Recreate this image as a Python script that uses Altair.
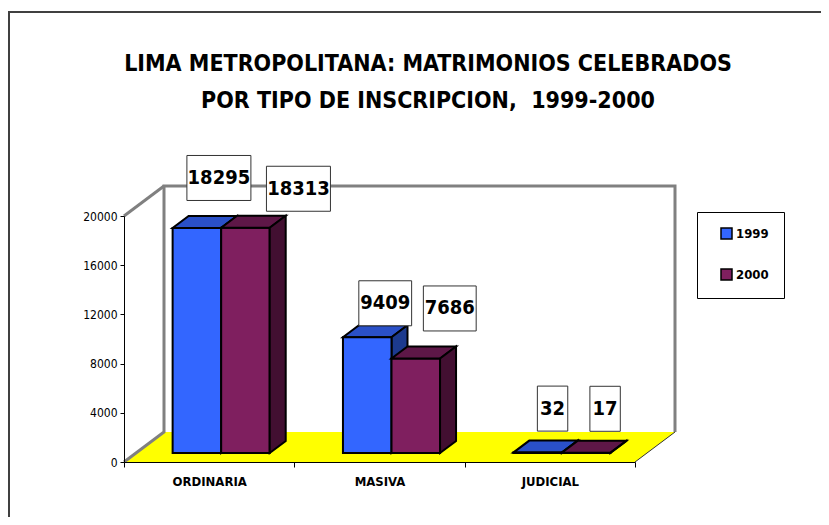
import altair as alt
import pandas as pd

# ---------------- data ----------------
categories = ["ORDINARIA", "MASIVA", "JUDICIAL"]
years = ["1999", "2000"]
values_1999 = [18295, 9409, 32]
values_2000 = [18313, 7686, 17]
y_ticks = [0, 4000, 8000, 12000, 16000, 20000]
title_lines = ["LIMA METROPOLITANA: MATRIMONIOS CELEBRADOS",
               "POR TIPO DE INSCRIPCION, \u00a01999-2000"]
series = {"1999": values_1999, "2000": values_2000}

# ---------------- layout / style ----------------
W, H = 511, 246
Y_MAX = 20000
PXX = W / len(categories)
PXY = H / Y_MAX


def ux(px):
    return px / PXX


def uy(px):
    return px / PXY


FLOOR = (40, 30)        # depth of floor (px right, px up)
BAR_FRONT = (12, 9)     # depth of bar front face
BAR_BACK = (28, 21)     # depth of bar back face
GROUP_START = 0.215
BAR_W = 0.285
# label box offsets (px right, px up) from the bar front-top centre
LABEL_OFFSETS = {"1999": [(22, 50), (18, 34), (15, 44)],
                 "2000": [(53, 39), (34, 50), (19, 44)]}
COLORS = {"1999": {"front": "#3366FF", "top": "#2A50C8", "side": "#1C3A8E"},
          "2000": {"front": "#7F1F5F", "top": "#5E1747", "side": "#420F31"}}
FONT = "Liberation Sans Narrow, Arial Narrow, DejaVu Sans Condensed, sans-serif"

xs = alt.Scale(domain=[0, len(categories)], nice=False, zero=False)
ys = alt.Scale(domain=[0, Y_MAX], nice=False, zero=False)
yaxis = alt.Axis(values=y_ticks, format="d", title=None, grid=False,
                 labelFont=FONT, labelFontSize=12, labelColor="black",
                 tickColor="black", tickSize=4, labelPadding=3,
                 domainColor="black", domainWidth=1, zindex=1)


def poly_rows(pid, pts):
    return [{"pid": pid, "ord": k, "x": x, "y": y} for k, (x, y) in enumerate(pts)]


fdx, fdy = ux(BAR_FRONT[0]), uy(BAR_FRONT[1])
bdx, bdy = ux(BAR_BACK[0]), uy(BAR_BACK[1])
Fdx, Fdy = ux(FLOOR[0]), uy(FLOOR[1])

fronts, labels = [], []
faces = {(yr, k): [] for yr in years for k in ("top", "side")}
for i, cat in enumerate(categories):
    for s, yr in enumerate(years):
        v = series[yr][i]
        x0 = i + GROUP_START + s * BAR_W
        x1 = x0 + BAR_W
        fronts.append({"cat": cat, "year": yr, "x": x0 + fdx, "x2": x1 + fdx,
                       "y": fdy, "y2": v + fdy})
        faces[(yr, "top")] += poly_rows(f"t{i}{yr}", [(x0 + fdx, v + fdy), (x1 + fdx, v + fdy),
                                                    (x1 + bdx, v + bdy), (x0 + bdx, v + bdy)])
        faces[(yr, "side")] += poly_rows(f"s{i}{yr}", [(x1 + fdx, fdy), (x1 + bdx, bdy),
                                                     (x1 + bdx, v + bdy), (x1 + fdx, v + fdy)])
        ox, oy = LABEL_OFFSETS[yr][i]
        cx = (x0 + x1) / 2 + fdx + ux(ox)
        cy = v + fdy + uy(oy)
        hw = (11.2 * len(str(v)) + 8) / 2
        hh = 22.5
        labels.append({"text": str(v), "cx": cx, "cy": cy,
                       "bx": cx - ux(hw), "bx2": cx + ux(hw),
                       "by": cy - uy(hh), "by2": cy + uy(hh)})

fronts_df = pd.DataFrame(fronts)
labels_df = pd.DataFrame(labels)
n = len(categories)
floor_df = pd.DataFrame(poly_rows("floor", [(0, 0), (n, 0), (n + Fdx, Fdy), (Fdx, Fdy)]))
wall_df = pd.DataFrame(
    poly_rows("a", [(0, 0), (Fdx, Fdy), (Fdx, Y_MAX + Fdy), (n + Fdx, Y_MAX + Fdy), (n + Fdx, Fdy)])
    + poly_rows("b", [(0, Y_MAX), (Fdx, Y_MAX + Fdy)]))
edge_df = pd.DataFrame(poly_rows("e", [(n, 0), (n + Fdx, Fdy)]))


def poly_layer(df, fill=None, stroke="black", sw=2.0, closed=True):
    kw = dict(stroke=stroke, strokeWidth=sw, strokeJoin="miter")
    if fill is not None:
        kw["fill"] = fill
    if closed:
        kw["interpolate"] = "linear-closed"
    return alt.Chart(df).mark_line(**kw).encode(
        x=alt.X("x:Q", scale=xs, axis=None),
        y=alt.Y("y:Q", scale=ys, axis=yaxis),
        detail="pid:N", order="ord:Q")


floor_layer = alt.Chart(floor_df).mark_line(
    interpolate="linear-closed", fill="#FFFF00", strokeWidth=0, stroke="#FFFF00").encode(
    x=alt.X("x:Q", scale=xs, axis=None), y=alt.Y("y:Q", scale=ys, axis=yaxis),
    detail="pid:N", order="ord:Q")
wall_layer = poly_layer(wall_df, stroke="#808080", sw=3, closed=False)
edge_layer = poly_layer(edge_df, stroke="#333333", sw=1, closed=False)

blue_top = poly_layer(pd.DataFrame(faces[("1999", "top")]), fill=COLORS["1999"]["top"])
blue_side = poly_layer(pd.DataFrame(faces[("1999", "side")]), fill=COLORS["1999"]["side"])
mar_top = poly_layer(pd.DataFrame(faces[("2000", "top")]), fill=COLORS["2000"]["top"])
mar_side = poly_layer(pd.DataFrame(faces[("2000", "side")]), fill=COLORS["2000"]["side"])

front_layer = alt.Chart(fronts_df).mark_rect(stroke="black", strokeWidth=2).encode(
    x=alt.X("x:Q", scale=xs, axis=None), x2="x2:Q",
    y=alt.Y("y:Q", scale=ys, axis=yaxis), y2="y2:Q",
    color=alt.Color("year:N",
                    scale=alt.Scale(domain=years,
                                    range=[COLORS[y]["front"] for y in years]),
                    legend=alt.Legend(title=None, orient="none", legendX=573, legendY=-4,
                                      symbolType="square", symbolSize=121,
                                      symbolStrokeColor="black", symbolStrokeWidth=1.5,
                                      labelFont=FONT, labelFontSize=13,
                                      labelFontWeight="bold", labelColor="black",
                                      strokeColor="black", fillColor="white",
                                      padding=15, rowPadding=24, symbolOffset=8,
                                      labelOffset=3)))

box_layer = alt.Chart(labels_df).mark_rect(fill="white", stroke="#333333", strokeWidth=1).encode(
    x=alt.X("bx:Q", scale=xs, axis=None), x2="bx2:Q",
    y=alt.Y("by:Q", scale=ys, axis=yaxis), y2="by2:Q")
text_layer = alt.Chart(labels_df).mark_text(
    font=FONT, fontSize=20, fontWeight="bold", color="black", baseline="middle",
    align="center").encode(
    x=alt.X("cx:Q", scale=xs, axis=None), y=alt.Y("cy:Q", scale=ys, axis=yaxis),
    text="text:N")

one = pd.DataFrame({"a": [0]})
frame_layer = alt.Chart(one).mark_rect(fill=None, stroke="#404040", strokeWidth=2).encode(
    x=alt.value(-115), x2=alt.value(900), y=alt.value(-204), y2=alt.value(500))
title_layers = [
    alt.Chart(one).mark_text(font=FONT, fontSize=23, fontWeight="bold", color="black",
                             align="center", baseline="middle").encode(
        x=alt.value(304), y=alt.value(-152 + 37 * k), text=alt.value(t))
    for k, t in enumerate(title_lines)
]

geom = alt.layer(floor_layer, wall_layer, edge_layer, blue_top, blue_side, front_layer,
                 mar_top, mar_side, box_layer, text_layer, frame_layer, *title_layers)

axis_layer = alt.Chart(pd.DataFrame({"cat": categories})).mark_point(opacity=0).encode(
    x=alt.X("cat:N", sort=categories,
            scale=alt.Scale(paddingInner=0, paddingOuter=0),
            axis=alt.Axis(title=None, tickBand="extent", labelAngle=0,
                          labelFont=FONT, labelFontSize=13, labelFontWeight="bold",
                          labelColor="black", tickColor="black", tickSize=5,
                          labelPadding=8, domainColor="black", domainWidth=1,
                          zindex=1)),
    y=alt.value(0))

chart = alt.layer(geom, axis_layer).resolve_scale(x="independent").properties(
    width=W, height=H,
    padding={"left": 116, "top": 208, "right": 186, "bottom": 55},
    autosize=alt.AutoSizeParams(type="none"),
).configure_view(stroke=None)

chart.save("out.html", embed_options={"renderer": "svg", "actions": False})
